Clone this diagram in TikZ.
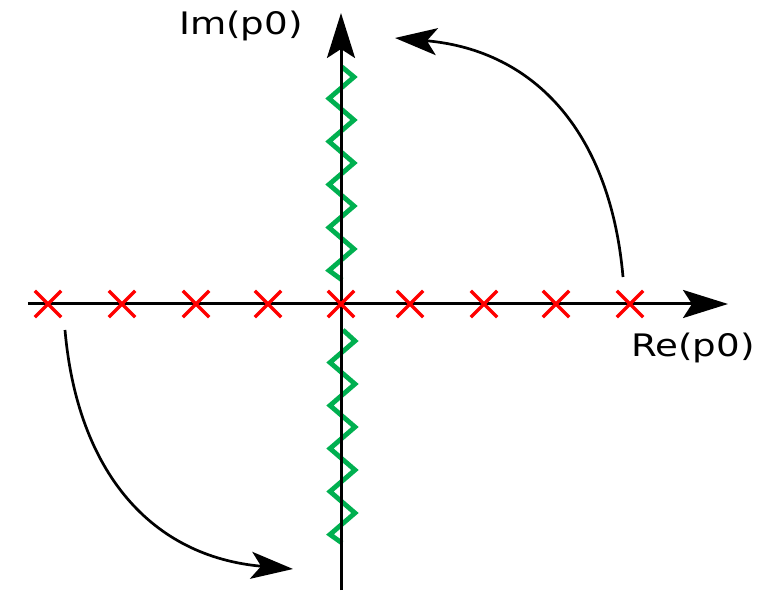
\documentclass[tikz,border=0pt]{standalone}
\usepackage{fontspec}
\newfontfamily\lblfont[FakeStretch=1.2]{DejaVu Sans}
\usepackage{tikz}
\usetikzlibrary{
  arrows.meta,
  shapes.misc
}
\definecolor{cutgreen}{RGB}{0,176,80}

\begin{document}
\begin{tikzpicture}[
			x=0.5pt, y=0.5pt,
			axis/.style={line width=1.5pt, -{Stealth[length=22.5pt, width=14pt, inset=4.5pt]}},
			turn/.style={line width=1.35pt, looseness=1.1, -{Stealth[length=21pt, width=13.5pt, inset=5pt]}},
			pole/.style={cross out, draw=red, line width=1.7pt, minimum size=11.5pt, inner sep=0pt},
			cut/.style={cutgreen, line width=2.4pt},
			lbl/.style={font=\lblfont\fontsize{15.5}{18}\selectfont, inner sep=0pt, anchor=base}
			]
			\useasboundingbox (-341,-288) rectangle (417,304);
			% branch cuts along the imaginary axis
			\draw[cut] (1,237) foreach \k in {0,...,4} {-- (13,{227-43*\k}) -- (-12,{205.5-43*\k})} -- (1,24);
			\draw[cut] (2,-26) foreach \k in {0,...,4} {-- (14,{-37-43*\k}) -- (-11,{-58.5-43*\k})} -- (1,-239);
			% axes
			\coordinate (xl) at (-313,0);
			\coordinate (xr) at (387,0);
			\coordinate (yb) at (0,-286);
			\coordinate (yt) at (0,291);
			\draw[axis] (xl) -- (xr);
			\draw[axis] (yb) -- (yt);
			\node[lbl] (im) at (-100,269) {Im(p0)};
			\node[lbl] (re) at (352,-53) {Re(p0)};
			% poles on the real axis
			\foreach \x [count=\i] in {-293,-219,-145,-73,0,69,143,215,289}
				\node[pole] (p\i) at (\x,0) {};
			% rotation of the contour
			\coordinate (s1) at (282,27);
			\coordinate (e1) at (54,266);
			\coordinate (s2) at (-276,-26);
			\coordinate (e2) at (-48,-265);
			\draw[turn] (s1) to[out=95, in=-5] (e1);
			\draw[turn] (s2) to[out=-85, in=175] (e2);
	\end{tikzpicture}
\end{document}
